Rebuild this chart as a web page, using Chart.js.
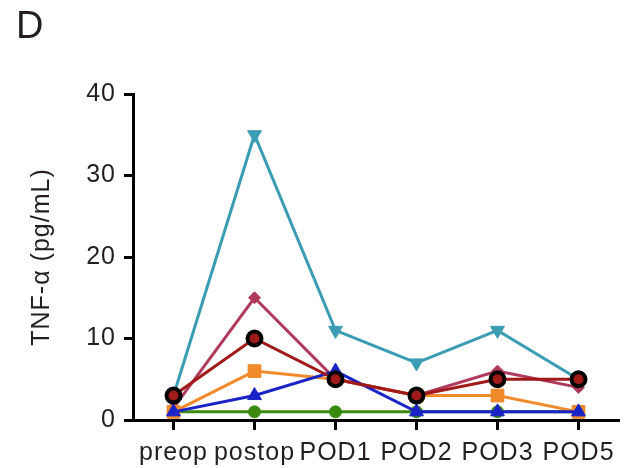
<!DOCTYPE html>
<html>
<head>
<meta charset="utf-8">
<script src="https://cdn.jsdelivr.net/npm/chart.js@4"></script>
<style>
  html, body { margin: 0; padding: 0; background: #fff; }
  #wrap { position: relative; width: 630px; height: 468px; }
</style>
</head>
<body>
<div id="wrap"><canvas id="tnfChart" width="630" height="468"></canvas></div>
<script>
  const labels = ['preop', 'postop', 'POD1', 'POD2', 'POD3', 'POD5'];
  const yTicks = [0, 10, 20, 30, 40];

  const meanVals = [3, 10, 5, 3, 5, 5];
  const blueVals = [1, 3, 6, 1, 1, 1];
  const orangeVals = [1, 6, 5, 3, 3, 1];
  const mauveVals = [1.5, 15, 5, 3, 6, 4];
  const cyanVals = [3, 35, 11, 7, 11, 5];
  const greenVals = [1, 1, 1, 1, 1, 1];

  const FONT = "'Liberation Sans', Arial, Helvetica, sans-serif";

  // the figure font is a bit wider than Liberation Sans
  const spacing = {
    id: 'spacing',
    beforeDraw(chart) { chart.ctx.letterSpacing = '1px'; },
    afterDraw(chart) { chart.ctx.letterSpacing = '0px'; }
  };

  const panelLetter = {
    id: 'panelLetter',
    afterDraw(chart) {
      const ctx = chart.ctx;
      ctx.save();
      ctx.font = '38px ' + FONT;
      ctx.fillStyle = '#231f20';
      ctx.textBaseline = 'alphabetic';
      ctx.fillText('D', 16, 38);
      ctx.restore();
    }
  };

  function series(data, color, style, radius, extra) {
    return Object.assign({
      data,
      borderColor: color,
      backgroundColor: color,
      pointBackgroundColor: color,
      pointBorderColor: color,
      borderWidth: 3,
      pointStyle: style,
      pointRadius: radius,
      pointBorderWidth: 1,
      tension: 0,
      clip: false
    }, extra || {});
  }

  new Chart(document.getElementById('tnfChart'), {
    type: 'line',
    data: {
      labels,
      // first dataset is painted on top
      datasets: [
        series(meanVals, '#a01a1a', 'circle', 7, { pointBorderColor: '#000', pointBorderWidth: 4 }),
        series(blueVals, '#1a23c8', 'triangle', 8),
        series(orangeVals, '#f08a2a', 'rect', 9),
        series(mauveVals, '#b03a5b', 'rectRot', 6),
        series(cyanVals, '#3a9db4', 'triangle', 8, { pointRotation: 180 }),
        series(greenVals, '#3a8a10', 'circle', 6)
      ]
    },
    options: {
      responsive: false,
      animation: false,
      layout: { padding: { top: 94, right: 10, left: 0, bottom: 0 } },
      plugins: {
        legend: { display: false },
        tooltip: { enabled: false }
      },
      scales: {
        x: {
          offset: true,
          afterFit(scale) { scale.height = 48; },
          grid: {
            drawOnChartArea: false,
            offset: false,
            tickLength: 10,
            tickColor: '#000',
            tickWidth: 3
          },
          border: { color: '#000', width: 3 },
          ticks: {
            color: '#231f20',
            font: { family: FONT, size: 25 },
            padding: 8,
            maxRotation: 0,
            autoSkip: false
          }
        },
        y: {
          min: 0,
          max: 40,
          afterFit(scale) { scale.width = 133; },
          afterBuildTicks(scale) { scale.ticks = yTicks.map(v => ({ value: v })); },
          grid: {
            drawOnChartArea: false,
            tickLength: 9,
            tickColor: '#000',
            tickWidth: 3
          },
          border: { color: '#000', width: 3 },
          ticks: {
            color: '#231f20',
            font: { family: FONT, size: 25 },
            padding: 8
          },
          title: {
            display: true,
            text: 'TNF-α (pg/mL)',
            color: '#231f20',
            font: { family: FONT, size: 25 },
            padding: { top: 27, bottom: 0 }
          }
        }
      }
    },
    plugins: [spacing, panelLetter]
  });
</script>
</body>
</html>
